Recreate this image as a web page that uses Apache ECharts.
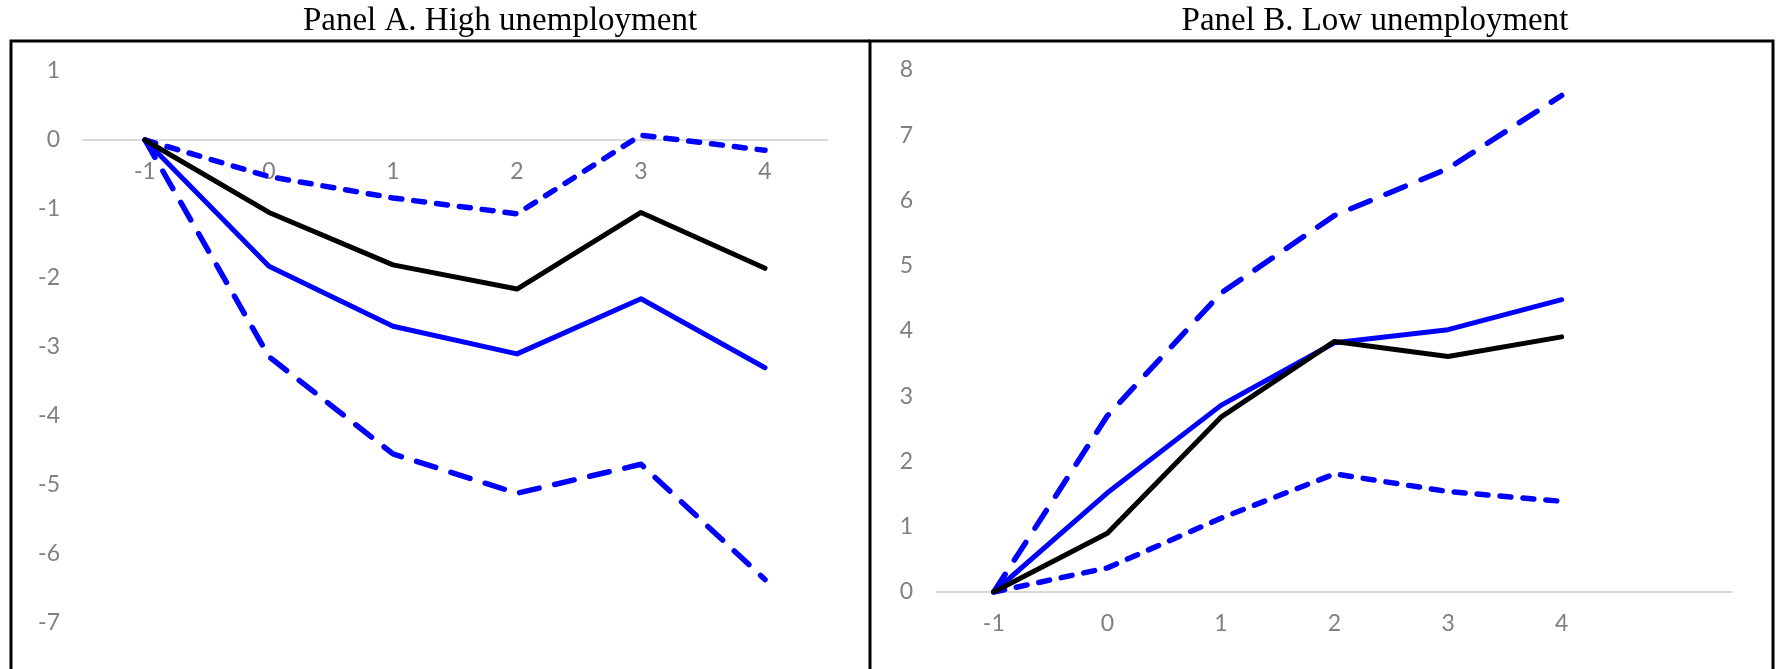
<!DOCTYPE html>
<html>
<head>
<meta charset="utf-8">
<script src="https://cdn.jsdelivr.net/npm/echarts@6/dist/echarts.min.js"></script>
<style>
  html, body { margin: 0; padding: 0; background: #fff; }
  #chart { width: 1779px; height: 669px; }
</style>
</head>
<body>
<div id="chart"></div>
<script>
// Horizons (years relative to the event)
const horizonsA = ['-1', '0', '1', '2', '3', '4'];
const horizonsB = ['-1', '0', '1', '2', '3', '4', ''];

// Panel A: high unemployment
const pointA = [0, -1.05, -1.81, -2.16, -1.05, -1.86];
const estA   = [0, -1.83, -2.70, -3.10, -2.30, -3.30];
const upperA = [0, -0.53, -0.84, -1.07, 0.07, -0.15];
const lowerA = [0, -3.14, -4.55, -5.12, -4.70, -6.37];

// Panel B: low unemployment
const pointB = [0, 0.90, 2.68, 3.84, 3.61, 3.91];
const estB   = [0, 1.52, 2.86, 3.82, 4.02, 4.48];
const upperB = [0, 2.70, 4.58, 5.77, 6.49, 7.61];
const lowerB = [0, 0.37, 1.13, 1.81, 1.54, 1.39];

// y ranges
const yMinA = -7, yMaxA = 1;
const yMinB = 0, yMaxB = 8;

const titleA = 'Panel A. High unemployment';
const titleB = 'Panel B. Low unemployment';

const labelFont = { fontFamily: 'Lato', fontSize: 23, color: '#808080' };
const titleFont = { fontFamily: 'Liberation Serif', fontSize: 33, fontWeight: 'normal', color: '#000' };

const gridA = { left: 83, top: 71, width: 744, height: 552 };
const gridB = { left: 937, top: 70, width: 795, height: 522 };

// Panel A's category axis sits on the zero line, with labels just beneath it
const zeroOffsetA = -gridA.height * (yMaxA - 0) / (yMaxA - yMinA);

function lineSeries(name, data, xi, color, type, width) {
  return {
    name, type: 'line', data,
    xAxisIndex: xi, yAxisIndex: xi,
    showSymbol: false, symbol: 'none', silent: true,
    lineStyle: { color, width, type, cap: 'round', join: 'round' },
    z: type === 'solid' ? (color === '#000000' ? 5 : 4) : 3
  };
}

const chart = echarts.init(document.getElementById('chart'), null, { renderer: 'canvas' });
chart.setOption({
  animation: false,
  backgroundColor: '#ffffff',
  title: [
    { text: titleA, left: 495, top: 0, textAlign: 'center', textStyle: titleFont },
    { text: titleB, left: 1370, top: 0, textAlign: 'center', textStyle: titleFont }
  ],
  grid: [gridA, gridB],
  xAxis: [
    { type: 'category', gridIndex: 0, data: horizonsA, boundaryGap: true,
      position: 'top', offset: zeroOffsetA,
      axisLine: { onZero: false, lineStyle: { color: '#d9d9d9', width: 2 } },
      axisTick: { show: false },
      axisLabel: Object.assign({ inside: true, margin: 20 }, labelFont),
      splitLine: { show: false } },
    { type: 'category', gridIndex: 1, data: horizonsB, boundaryGap: true,
      axisLine: { onZero: true, lineStyle: { color: '#d9d9d9', width: 2 } },
      axisTick: { show: false },
      axisLabel: Object.assign({ margin: 20 }, labelFont),
      splitLine: { show: false } }
  ],
  yAxis: [
    { type: 'value', gridIndex: 0, min: yMinA, max: yMaxA, interval: 1,
      axisLine: { show: false }, axisTick: { show: false }, splitLine: { show: false },
      axisLabel: Object.assign({ margin: 23 }, labelFont) },
    { type: 'value', gridIndex: 1, min: yMinB, max: yMaxB, interval: 1,
      axisLine: { show: false }, axisTick: { show: false }, splitLine: { show: false },
      axisLabel: Object.assign({ margin: 24 }, labelFont) }
  ],
  graphic: [
    // panel frames
    { type: 'polyline', silent: true, shape: { points: [[11, 700], [11, 41], [870, 41]] },
      style: { stroke: '#000', lineWidth: 3, fill: null } },
    { type: 'polyline', silent: true, shape: { points: [[870, 700], [870, 41], [1773, 41], [1773, 700]] },
      style: { stroke: '#000', lineWidth: 3, fill: null } }
  ],
  series: [
    lineSeries('upperA', upperA, 0, '#0000ff', [11, 12], 5.5),
    lineSeries('lowerA', lowerA, 0, '#0000ff', [20, 16], 5.5),
    lineSeries('estA', estA, 0, '#0000ff', 'solid', 5),
    lineSeries('pointA', pointA, 0, '#000000', 'solid', 5),
    lineSeries('upperB', upperB, 1, '#0000ff', [21, 17], 5.5),
    lineSeries('lowerB', lowerB, 1, '#0000ff', [11, 12], 5.5),
    lineSeries('estB', estB, 1, '#0000ff', 'solid', 5),
    lineSeries('pointB', pointB, 1, '#000000', 'solid', 5)
  ]
});
</script>
</body>
</html>
